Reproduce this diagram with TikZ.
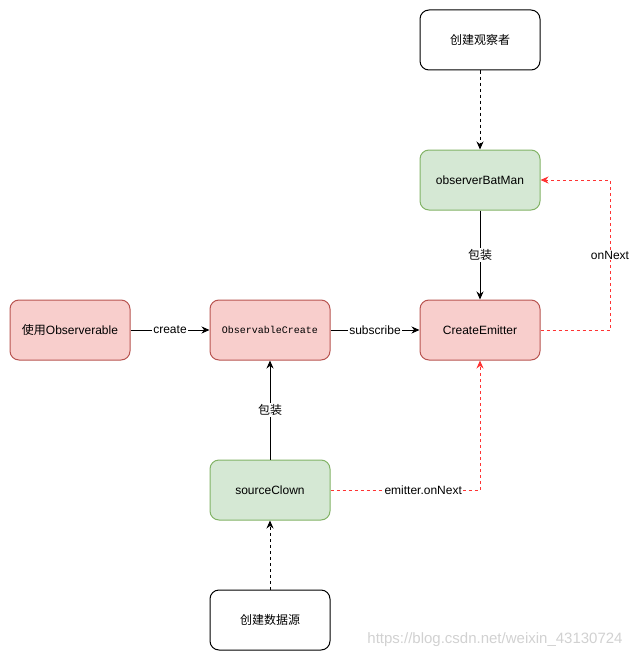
\documentclass[tikz,border=0pt]{standalone}
\usepackage{fontspec}
\setmainfont{Liberation Sans}
\newfontfamily\cjk{Noto Sans CJK SC}
\newfontfamily\codefont{Liberation Mono}
\usetikzlibrary{arrows.meta}
\definecolor{redfill}{HTML}{F8CECC}
\definecolor{redline}{HTML}{B85450}
\definecolor{greenfill}{HTML}{D5E8D4}
\definecolor{greenline}{HTML}{82B366}
\definecolor{callred}{HTML}{FF3333}
\tikzset{
box/.style={draw,rounded corners=9pt,minimum width=120pt,minimum height=60pt,inner sep=0,line width=1pt,font=\fontsize{12}{14}\selectfont},
redbox/.style={box,fill=redfill,draw=redline},
greenbox/.style={box,fill=greenfill,draw=greenline},
link/.style={line width=1pt,-{Stealth[length=8pt,width=7pt]}},
dashlink/.style={link,dash pattern=on 3pt off 3pt},
calllink/.style={dashlink,draw=callred},
lbl/.style={fill=white,inner sep=1pt,font=\fontsize{12}{14}\selectfont}
}
\begin{document}
\begin{tikzpicture}[x=1pt,y=-1pt]
\useasboundingbox(0,0)rectangle(640,661);
\coordinate(C1)at(610,330);
\node[box](newObs)at(480,40){\cjk 创建观察者};
\node[greenbox](batMan)at(480,180){observerBatMan};
\node[redbox](emitter)at(480,330){CreateEmitter};
\node[redbox](obsCreate)at(270,330){\codefont\fontsize{10}{12}\selectfont ObservableCreate};
\node[redbox](useObs)at(70,330){{\cjk 使用}Observerable};
\node[greenbox](clown)at(270,490){sourceClown};
\node[box](newSrc)at(270,620){\cjk 创建数据源};
\draw[dashlink](newObs)--(batMan);
\draw[link](batMan)--node[lbl]{\cjk 包装}(emitter);
\draw[link](useObs)--node[lbl]{create}(obsCreate);
\draw[link](obsCreate)--node[lbl]{subscribe}(emitter);
\draw[link](clown)--node[lbl]{\cjk 包装}(obsCreate);
\draw[dashlink](newSrc)--(clown);
\draw[calllink](emitter.east)--(C1)|-node[lbl,pos=.25]{onNext}(batMan.east);
\draw[calllink](clown.east)-|node[lbl,pos=.31]{emitter.onNext}(emitter.south);
\node[text=black!18,font=\fontsize{15}{18}\selectfont](mark)at(495,640){https://blog.csdn.net/weixin\_43130724};
\end{tikzpicture}
\end{document}
